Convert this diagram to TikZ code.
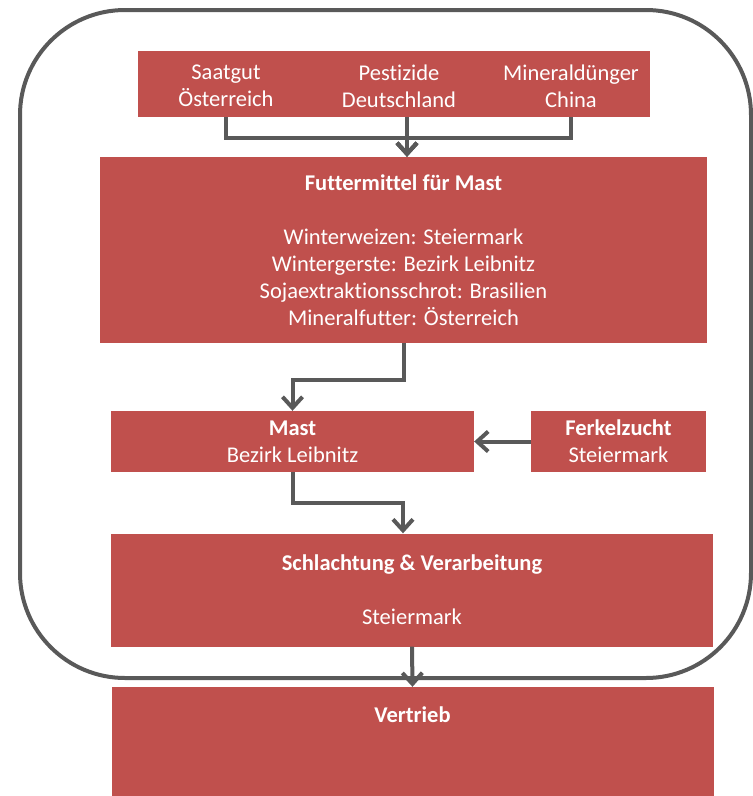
\documentclass[tikz,border=0pt]{standalone}
\usepackage{fontspec}
\setmainfont{Carlito}[Ligatures={NoCommon}]
\usetikzlibrary{arrows.meta}

\definecolor{boxrot}{HTML}{C0504D}
\definecolor{liniengrau}{HTML}{595959}

\tikzset{
  kasten/.style={fill=boxrot, text=white, align=center, inner sep=0pt,
    font=\fontsize{22.5}{27}\selectfont},
  beschriftung/.style={text=white, align=center, inner sep=0pt,
    font=\fontsize{22.5}{27}\selectfont},
  pfeil/.style={draw=liniengrau, line width=4pt,
    -{Straight Barb[length=11pt, width=20pt]}},
  rahmen/.style={draw=liniengrau, line width=4pt, rounded corners=105pt}
}

\begin{document}
\begin{tikzpicture}[x=1pt, y=-1pt]
      \useasboundingbox (0,0) rectangle (753,796);

      % Rahmen
      \draw[rahmen] (20,10) rectangle (751,678);

      % Vorleistungen
      \node[kasten, minimum width=512pt, minimum height=66pt] (quellen) at (394,84) {};
      \node[beschriftung] (saat) at (226,86) {Saatgut\\Österreich};
      \node[beschriftung] (pest) at (399,86) {Pestizide\\Deutschland};
      \node[beschriftung] (mineral) at (571,86) {Mineraldünger\\China};

      % Stufen der Kette
      \node[kasten, minimum width=607pt, minimum height=186pt] (futter) at (403.5,250)
        {\textbf{Futtermittel für Mast}\\[27pt]
         Winterweizen: Steiermark\\
         Wintergerste: Bezirk Leibnitz\\
         Sojaextraktionsschrot: Brasilien\\
         Mineralfutter: Österreich};
      \node[kasten, minimum width=363pt, minimum height=61pt] (mast) at (292.5,441.5)
        {\textbf{Mast}\\Bezirk Leibnitz};
      \node[kasten, minimum width=175pt, minimum height=61pt] (ferkel) at (618.5,441.5)
        {\textbf{Ferkelzucht}\\Steiermark};
      \node[kasten, minimum width=602pt, minimum height=113pt] (schlacht) at (412,590)
        {\textbf{Schlachtung \& Verarbeitung}\\[27pt]Steiermark};
      \node[kasten, minimum width=602pt, minimum height=109pt] (vertrieb) at (412.5,741.5)
        {\textbf{Vertrieb}\\[27pt]\mbox{}};

      % Knickpunkte
      \coordinate (k1) at (407,138);
      \coordinate (k2) at (404,380);
      \coordinate (k3) at (403,503);

      % Verbindungen
      \draw[pfeil] (quellen.south -| saat) |- (k1) -- (futter.north -| k1);
      \draw[pfeil] (quellen.south -| k1) -- (futter.north -| k1);
      \draw[pfeil] (quellen.south -| mineral) |- (k1) -- (futter.north -| k1);
      \draw[pfeil] (futter.south -| k2) -- (k2) -| (mast.north);
      \draw[pfeil] (ferkel.west) -- (mast.east);
      \draw[pfeil] (mast.south) |- (k3) -- (schlacht.north -| k3);
      \draw[pfeil] (schlacht.south) -- (vertrieb.north);
    \end{tikzpicture}
\end{document}
